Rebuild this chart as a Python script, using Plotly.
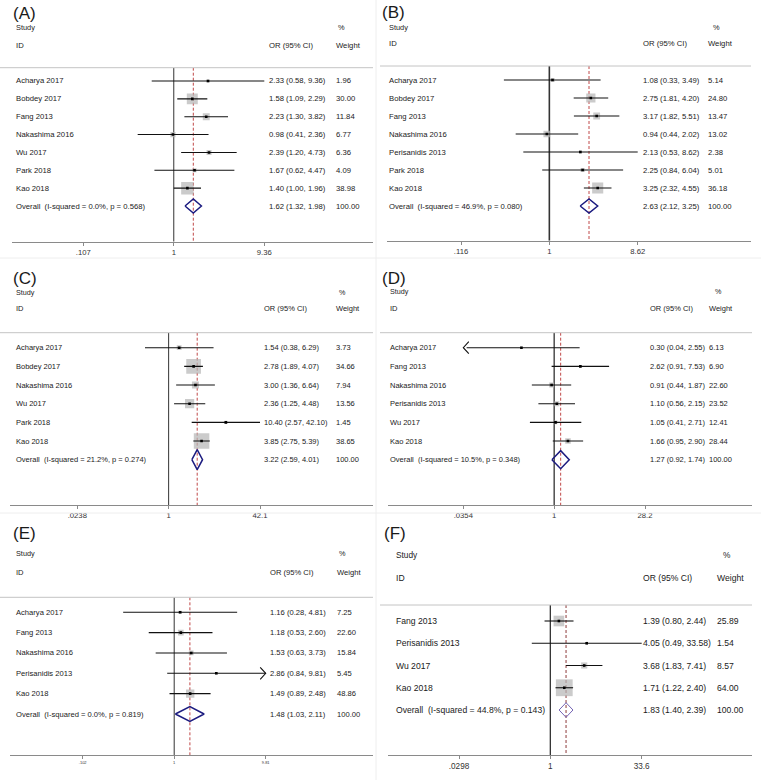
import numpy as np
import plotly.graph_objects as go

W, H = 761, 780

# ---------------- data ----------------
A_studies = ["Acharya 2017", "Bobdey 2017", "Fang 2013", "Nakashima 2016", "Wu 2017", "Park 2018", "Kao 2018"]
A_or = [2.33, 1.58, 2.23, 0.98, 2.39, 1.67, 1.40]
A_lo = [0.58, 1.09, 1.30, 0.41, 1.20, 0.62, 1.00]
A_hi = [9.36, 2.29, 3.82, 2.36, 4.73, 4.47, 1.96]
A_w = [1.96, 30.00, 11.84, 6.77, 6.36, 4.09, 38.98]
A_overall = [1.62, 1.32, 1.98]
A_i2, A_p = 0.0, 0.568
A_ticks = [0.107, 1, 9.36]
A_ticklabels = [".107", "1", "9.36"]

B_studies = ["Acharya 2017", "Bobdey 2017", "Fang 2013", "Nakashima 2016", "Perisanidis 2013", "Park 2018", "Kao 2018"]
B_or = [1.08, 2.75, 3.17, 0.94, 2.13, 2.25, 3.25]
B_lo = [0.33, 1.81, 1.82, 0.44, 0.53, 0.84, 2.32]
B_hi = [3.49, 4.20, 5.51, 2.02, 8.62, 6.04, 4.55]
B_w = [5.14, 24.80, 13.47, 13.02, 2.38, 5.01, 36.18]
B_overall = [2.63, 2.12, 3.25]
B_i2, B_p = 46.9, 0.080
B_ticks = [0.116, 1, 8.62]
B_ticklabels = [".116", "1", "8.62"]

C_studies = ["Acharya 2017", "Bobdey 2017", "Nakashima 2016", "Wu 2017", "Park 2018", "Kao 2018"]
C_or = [1.54, 2.78, 3.00, 2.36, 10.40, 3.85]
C_lo = [0.38, 1.89, 1.36, 1.25, 2.57, 2.75]
C_hi = [6.29, 4.07, 6.64, 4.48, 42.10, 5.39]
C_w = [3.73, 34.66, 7.94, 13.56, 1.45, 38.65]
C_overall = [3.22, 2.59, 4.01]
C_i2, C_p = 21.2, 0.274
C_ticks = [0.0238, 1, 42.1]
C_ticklabels = [".0238", "1", "42.1"]

D_studies = ["Acharya 2017", "Fang 2013", "Nakashima 2016", "Perisanidis 2013", "Wu 2017", "Kao 2018"]
D_or = [0.30, 2.62, 0.91, 1.10, 1.05, 1.66]
D_lo = [0.04, 0.91, 0.44, 0.56, 0.41, 0.95]
D_hi = [2.55, 7.53, 1.87, 2.15, 2.71, 2.90]
D_w = [6.13, 6.90, 22.60, 23.52, 12.41, 28.44]
D_overall = [1.27, 0.92, 1.74]
D_i2, D_p = 10.5, 0.348
D_ticks = [0.0354, 1, 28.2]
D_ticklabels = [".0354", "1", "28.2"]
D_arrows = [("Acharya 2017", "left")]

E_studies = ["Acharya 2017", "Fang 2013", "Nakashima 2016", "Perisanidis 2013", "Kao 2018"]
E_or = [1.16, 1.18, 1.53, 2.86, 1.49]
E_lo = [0.28, 0.53, 0.63, 0.84, 0.89]
E_hi = [4.81, 2.60, 3.73, 9.81, 2.48]
E_w = [7.25, 22.60, 15.84, 5.45, 48.86]
E_overall = [1.48, 1.03, 2.11]
E_i2, E_p = 0.0, 0.819
E_ticks = [0.102, 1, 9.81]
E_ticklabels = [".102", "1", "9.81"]
E_arrows = [("Perisanidis 2013", "right")]

F_studies = ["Fang 2013", "Perisanidis 2013", "Wu 2017", "Kao 2018"]
F_or = [1.39, 4.05, 3.68, 1.71]
F_lo = [0.80, 0.49, 1.83, 1.22]
F_hi = [2.44, 33.58, 7.41, 2.40]
F_w = [25.89, 1.54, 8.57, 64.00]
F_overall = [1.83, 1.40, 2.39]
F_i2, F_p = 44.8, 0.143
F_ticks = [0.0298, 1, 33.6]
F_ticklabels = [".0298", "1", "33.6"]

panels = [
    ("A", A_studies, A_or, A_lo, A_hi, A_w, A_overall, A_i2, A_p, A_ticks, A_ticklabels, []),
    ("B", B_studies, B_or, B_lo, B_hi, B_w, B_overall, B_i2, B_p, B_ticks, B_ticklabels, []),
    ("C", C_studies, C_or, C_lo, C_hi, C_w, C_overall, C_i2, C_p, C_ticks, C_ticklabels, []),
    ("D", D_studies, D_or, D_lo, D_hi, D_w, D_overall, D_i2, D_p, D_ticks, D_ticklabels, D_arrows),
    ("E", E_studies, E_or, E_lo, E_hi, E_w, E_overall, E_i2, E_p, E_ticks, E_ticklabels, E_arrows),
    ("F", F_studies, F_or, F_lo, F_hi, F_w, F_overall, F_i2, F_p, F_ticks, F_ticklabels, []),
]

# ---------------- geometry / style (pixels) ----------------
GEOM = {
    "A": dict(xl=12, xr=373, tpx=(83.3, 264.3), ytop=67.7, yax=241.7, r0=81, rN=206,
              let=(12, 13.5), sty=28, idy=45, namex=15, orx=268, wx=335, pctx=337,
              font=7.7, tfont=7.7, k=2.0, dia=7, hl0=0, dcol="#1c1c80", dw=1.5, rcol="#c04848", rw=1),
    "B": dict(xl=387, xr=751, tpx=(461, 637.7), ytop=66, yax=240.7, r0=80, rN=206,
              let=(381, 12.3), sty=27.3, idy=43.5, namex=388, orx=641.7, wx=707, pctx=712,
              font=7.7, tfont=7.7, k=1.85, dia=7, hl0=380, dcol="#1c1c80", dw=1.5, rcol="#c04848", rw=1.6),
    "C": dict(xl=10, xr=373, tpx=(77.3, 260), ytop=332.7, yax=505, r0=347.7, rN=459.7,
              let=(12, 278), sty=292, idy=308.3, namex=15, orx=263.3, wx=335, pctx=338,
              font=7.5, tfont=7.7, k=2.5, dia=10, hl0=0, dcol="#1c1c80", dw=1.5, rcol="#c04848", rw=1),
    "D": dict(xl=388, xr=752, tpx=(463.3, 645), ytop=332.7, yax=505, r0=347.7, rN=459.7,
              let=(381, 278), sty=291.7, idy=308.3, namex=389, orx=649.3, wx=708, pctx=714,
              font=7.5, tfont=7.7, k=1.05, dia=9, hl0=380, dcol="#1c1c80", dw=1.5, rcol="#c04848", rw=1.3),
    "E": dict(xl=10, xr=373, tpx=(82.7, 265.7), ytop=597.3, yax=755, r0=612.3, rN=714,
              let=(12, 533), sty=553, idy=572, namex=15, orx=268.7, wx=336, pctx=338,
              font=7.6, tfont=4, k=1.2, dia=7.5, hl0=0, dcol="#1c1c80", dw=1.5, rcol="#c04848", rw=1),
    "F": dict(xl=388, xr=752, tpx=(459, 641.7), ytop=605, yax=755, r0=621, rN=710,
              let=(383, 533), sty=555, idy=578, namex=395, orx=641.7, wx=716, pctx=721.7,
              font=8.6, tfont=8.2, k=2.1, dia=7.3, hl0=380, dcol="#7464b4", dw=1.0, rcol="#8e3a3a", rw=1.3),
}

FONT = "Liberation Sans, Arial, sans-serif"
TXT = "#1a1a1a"

fig = go.Figure()
layout = {}
shapes = []
annotations = []


def paper_y(py):
    return 1 - py / H


for idx, (name, studies, ors, los, his, ws, ov, i2, p, ticks, tlabels, arrows) in enumerate(panels):
    n = idx + 1
    xa = "x" if n == 1 else f"x{n}"
    ya = "y" if n == 1 else f"y{n}"
    xkey = "xaxis" if n == 1 else f"xaxis{n}"
    ykey = "yaxis" if n == 1 else f"yaxis{n}"
    g = GEOM[name]

    tmin, tmax = ticks[0], ticks[-1]
    lmin, lmax = np.log10(tmin), np.log10(tmax)
    p0, p1 = g["tpx"]
    ppd = (p1 - p0) / (lmax - lmin)
    rlo = lmin - (p0 - g["xl"]) / ppd
    rhi = lmax + (g["xr"] - p1) / ppd

    nrows = len(studies) + 1
    dy = (g["rN"] - g["r0"]) / (nrows - 1)
    ytop_r = (g["ytop"] - g["r0"]) / dy
    ybot_r = (g["yax"] - g["r0"]) / dy

    layout[xkey] = dict(type="log", range=[rlo, rhi], domain=[g["xl"] / W, g["xr"] / W],
                        anchor=ya, tickvals=ticks, ticktext=tlabels, showline=True,
                        linecolor="#8a8a8a", linewidth=1, ticks="outside", ticklen=3,
                        tickcolor="#8a8a8a", showgrid=False, zeroline=False,
                        tickfont=dict(size=g["tfont"], color="#333333", family=FONT),
                        fixedrange=True)
    layout[ykey] = dict(domain=[paper_y(g["yax"]), paper_y(g["ytop"])],
                        range=[ybot_r, ytop_r], anchor=xa, visible=False, fixedrange=True)

    rows = list(range(len(studies)))
    orow = len(studies)

    # reference lines
    fig.add_trace(go.Scatter(x=[1, 1], y=[ytop_r, ybot_r], xaxis=xa, yaxis=ya, mode="lines",
                             line=dict(color="#333333", width=g["rw"]), hoverinfo="skip"))
    fig.add_trace(go.Scatter(x=[ov[0], ov[0]], y=[ytop_r, ybot_r], xaxis=xa, yaxis=ya, mode="lines",
                             line=dict(color=g["rcol"], width=1, dash="3px,2px"), hoverinfo="skip"))

    # weight boxes
    fig.add_trace(go.Scatter(x=ors, y=rows, xaxis=xa, yaxis=ya, mode="markers",
                             marker=dict(symbol="square", size=[g["k"] * np.sqrt(w) for w in ws],
                                         color="#b5b5b5", line=dict(width=0)),
                             hoverinfo="skip"))

    # CI lines (clipped to axis tick range)
    cx, cy = [], []
    for r, lo, hi in zip(rows, los, his):
        cx += [max(lo, tmin), min(hi, tmax), None]
        cy += [r, r, None]
    fig.add_trace(go.Scatter(x=cx, y=cy, xaxis=xa, yaxis=ya, mode="lines",
                             line=dict(color="#111111", width=1.1), hoverinfo="skip"))

    # arrows for truncated CIs
    for study, side in arrows:
        r = studies.index(study)
        fac = 10 ** (5.5 / ppd)
        hh = 6 / dy
        if side == "left":
            ax = [tmin * fac, tmin, tmin * fac]
        else:
            ax = [tmax / fac, tmax, tmax / fac]
        fig.add_trace(go.Scatter(x=ax, y=[r - hh, r, r + hh], xaxis=xa, yaxis=ya, mode="lines",
                                 line=dict(color="#111111", width=1.1), hoverinfo="skip"))

    # centre dots
    fig.add_trace(go.Scatter(x=ors, y=rows, xaxis=xa, yaxis=ya, mode="markers",
                             marker=dict(symbol="square", size=2.6, color="#000000", line=dict(width=0)),
                             hoverinfo="skip"))

    # overall diamond
    h = g["dia"] / dy
    fig.add_trace(go.Scatter(x=[ov[1], ov[0], ov[2], ov[0], ov[1]],
                             y=[orow, orow - h, orow, orow + h, orow],
                             xaxis=xa, yaxis=ya, mode="lines",
                             line=dict(color=g["dcol"], width=g["dw"]), hoverinfo="skip"))

    # header separator line
    shapes.append(dict(type="line", xref="paper", yref="paper",
                       x0=g["hl0"] / W, x1=g["xr"] / W, y0=paper_y(g["ytop"]), y1=paper_y(g["ytop"]),
                       line=dict(color="#c4c4c4", width=1)))

    f = g["font"]

    def ann(text, px, y, yref, size=f):
        annotations.append(dict(text=text, x=px / W, xref="paper", y=y, yref=yref,
                                xanchor="left", yanchor="middle", showarrow=False,
                                borderpad=0, font=dict(size=size, color=TXT, family=FONT)))

    # panel letter & header
    ann(f"({name})", g["let"][0], paper_y(g["let"][1]), "paper", 17)
    ann("Study", g["namex"], paper_y(g["sty"]), "paper", f - 0.3)
    ann("%", g["pctx"], paper_y(g["sty"]), "paper", f - 0.3)
    ann("ID", g["namex"], paper_y(g["idy"]), "paper")
    ann("OR (95% CI)", g["orx"], paper_y(g["idy"]), "paper")
    ann("Weight", g["wx"], paper_y(g["idy"]), "paper")

    # rows
    for r, s, o, lo, hi, w in zip(rows, studies, ors, los, his, ws):
        ann(s, g["namex"], r, ya)
        ann(f"{o:.2f} ({lo:.2f}, {hi:.2f})", g["orx"], r, ya)
        ann(f"{w:.2f}", g["wx"], r, ya)
    ann(f"Overall  (I-squared = {i2:.1f}%, p = {p:.3f})", g["namex"], orow, ya)
    ann(f"{ov[0]:.2f} ({ov[1]:.2f}, {ov[2]:.2f})", g["orx"], orow, ya)
    ann("100.00", g["wx"], orow, ya)

# faint panel separators
for sx in [376]:
    shapes.append(dict(type="line", xref="paper", yref="paper", x0=sx / W, x1=sx / W, y0=0, y1=1,
                       line=dict(color="#eeeeee", width=1)))
for sy in [258, 513]:
    shapes.append(dict(type="line", xref="paper", yref="paper", x0=0, x1=1,
                       y0=paper_y(sy), y1=paper_y(sy), line=dict(color="#eeeeee", width=1)))

fig.update_layout(**layout)
fig.update_layout(width=W, height=H, margin=dict(l=0, r=0, t=0, b=0),
                  paper_bgcolor="white", plot_bgcolor="white", showlegend=False,
                  shapes=shapes, annotations=annotations,
                  font=dict(family=FONT, color=TXT))
fig.write_html("out.html", config={"displayModeBar": False},
               post_script="document.body.style.margin='0px';document.body.style.overflow='hidden';")
